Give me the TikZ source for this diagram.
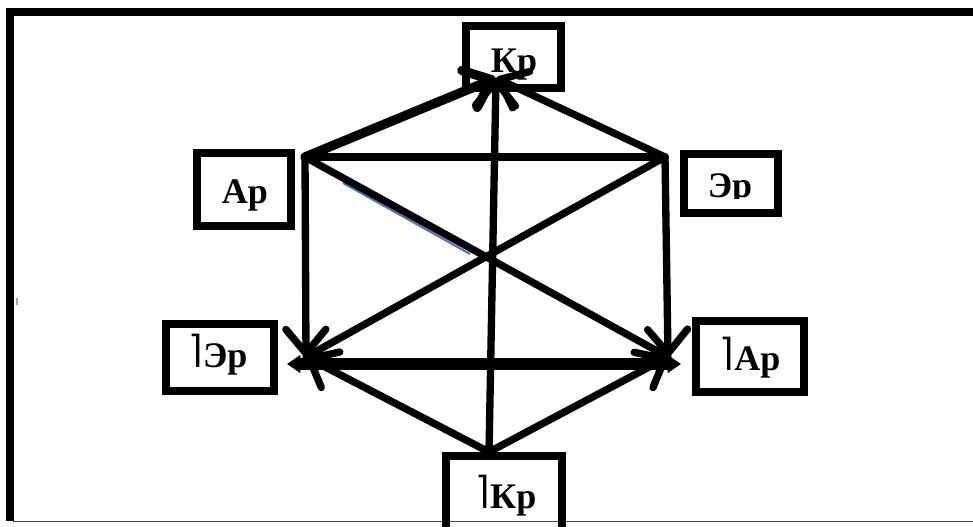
\documentclass[tikz,border=0pt]{standalone}
\usepackage{fontspec}
\setmainfont{Liberation Serif}
\newfontfamily\symfam{DejaVu Sans}
\usetikzlibrary{arrows.meta,fit}
\definecolor{wblue}{HTML}{4472C4}
\newcommand{\negsign}{\raisebox{3.5pt}{\fontsize{28}{28}\symfam\mdseries ⌉}}
\begin{document}
\begin{tikzpicture}[x=0.75pt,y=-0.75pt,
  box/.style={draw, line width=6pt, rectangle, inner sep=0pt},
  lbl/.style={font=\fontsize{27}{30}\selectfont\bfseries, inner sep=0pt, anchor=base},
  edge/.style={line width=5.5pt, line cap=round, line join=round},
  barb/.style={edge, -{Straight Barb[round,length=18pt,width=30pt]}},
  heavy/.style={line width=9.5pt, {Triangle[length=10pt,width=13pt]}-{Triangle[length=10pt,width=13pt]}},
]
\useasboundingbox (0,0) rectangle (973,526);
\fill[white] (0,0) rectangle (973,526);
% frame
\draw[line width=6pt] (10,521) -- (10,12) -- (980,12);
\draw[line width=0.75pt, black!70] (13,521.5) -- (973,521.5);
\draw[line width=1pt, wblue!60] (17,298) -- (17,305);
% boxes
\node[box, fit={(466,26) (561,88)}] (kr) {};
\node[box, fit={(197,153) (291,226)}] (ar) {};
\node[box, fit={(684,154) (778,213)}] (er) {};
\node[box, fit={(166,324) (274,391)}] (ner) {};
\node[box, fit={(696,321) (804,392)}] (nar) {};
\node[box, fit={(446,456) (562,532)}] (nkr) {};
% labels
\node[lbl] (krT) at (514,72) {Кр};
\node[lbl] (arT) at (245,203) {Ар};
\begin{scope}
  \clip (688,158) rectangle (774,198);
  \node[lbl] (erT) at (730,197) {Эр};
\end{scope}
\node[lbl] (nerT) at (218,367) {\negsign Эр};
\node[lbl] (narT) at (750,370) {\negsign Ар};
\node[lbl] (nkrT) at (506,508) {\negsign Кр};
% vertices
\coordinate (vA) at (305,157);
\coordinate (vE) at (665,157);
\coordinate (vK) at (496,78);
\coordinate (vnE) at (306,357);
\coordinate (vnA) at (668,357);
\coordinate (vnK) at (489,452);
\coordinate (hL) at (287,364);
\coordinate (hR) at (681,364);
% connectors
\draw[line width=1.5pt, wblue] (343,183) -- (470,254);
\draw[edge] (vA) -- (vE);
\draw[edge] (vA) -- (vnA);
\draw[edge] (vE) -- (vnE);
\draw[heavy] (hL) -- (hR);
\draw[barb, line width=7pt] (vA) -- (vK);
\draw[barb] (vE) -- (vK);
\draw[barb] (vnK) -- (vK);
\draw[barb] (vA) -- (vnE);
\draw[barb] (vE) -- (vnA);
\draw[barb] (vnK) -- (vnE);
\draw[barb] (vnK) -- (vnA);
\end{tikzpicture}
\end{document}
